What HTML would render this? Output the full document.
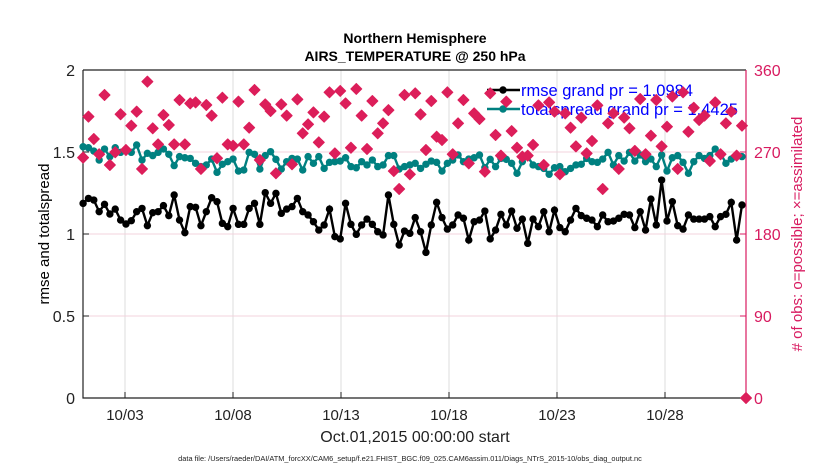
<!DOCTYPE html>
<html><head><meta charset="utf-8"><style>
body{margin:0;background:#fff;}
svg{display:block;font-family:"Liberation Sans",sans-serif;}
</style></head><body>
<svg id="chart" width="830" height="470" viewBox="0 0 830 470">
<text x="415" y="43" text-anchor="middle" font-size="14" font-weight="bold">Northern Hemisphere</text>
<text x="415" y="61" text-anchor="middle" font-size="14" font-weight="bold">AIRS_TEMPERATURE @ 250 hPa</text>
<g id="grid"></g><g id="axes"></g><g id="series"></g><g id="legend"></g><g id="obs"></g>
<text transform="translate(49,234) rotate(-90)" text-anchor="middle" font-size="15">rmse and totalspread</text>
<text transform="translate(802,234) rotate(-90)" text-anchor="middle" font-size="15" fill="#d81b60"># of obs: o=possible; ×=assimilated</text>
<text x="415" y="442" text-anchor="middle" font-size="16" fill="#222">Oct.01,2015 00:00:00 start</text>
<text x="410" y="461" text-anchor="middle" font-size="7.4" fill="#222">data file: /Users/raeder/DAI/ATM_forcXX/CAM6_setup/f.e21.FHIST_BGC.f09_025.CAM6assim.011/Diags_NTrS_2015-10/obs_diag_output.nc</text>
</svg>
<script>
const leftTicks=[0,0.5,1,1.5,2];
const leftTickLabels=["0","0.5","1","1.5","2"];
const rightTicks=[0,90,180,270,360];
const xTickDays=[3,8,13,18,23,28];
const xTickLabels=["10/03","10/08","10/13","10/18","10/23","10/28"];
const rmse=[1.187,1.217,1.207,1.136,1.181,1.122,1.152,1.085,1.061,1.081,1.136,1.156,1.051,1.130,1.136,1.173,1.112,1.238,1.085,1.008,1.167,1.163,1.051,1.136,1.221,1.197,1.065,1.045,1.156,1.059,1.059,1.156,1.187,1.059,1.252,1.187,1.248,1.126,1.152,1.167,1.217,1.136,
1.116,1.075,1.024,1.055,1.152,0.984,0.970,1.187,1.059,0.998,1.055,1.091,1.059,1.014,0.994,1.238,1.059,0.933,1.018,1.004,1.100,1.014,0.888,1.055,1.193,1.100,1.030,1.055,1.116,1.096,0.963,1.075,1.085,1.140,0.970,1.024,1.120,1.055,1.140,1.035,1.091,
0.943,1.091,1.045,1.136,1.014,1.146,1.039,1.014,1.085,1.156,1.112,1.096,1.085,1.045,1.116,1.075,1.079,1.096,1.120,1.116,1.039,1.136,1.024,1.213,1.055,1.329,1.079,1.197,1.051,1.030,1.116,1.091,1.091,1.091,1.106,1.045,1.106,1.120,1.193,0.963,1.177];
const spread=[1.532,1.526,1.506,1.451,1.518,1.472,1.526,1.498,1.512,1.498,1.543,1.451,1.492,1.478,1.498,1.518,1.486,1.417,1.472,1.465,1.461,1.431,1.411,1.421,1.457,1.376,1.425,1.441,1.457,1.384,1.390,1.498,1.486,1.396,1.478,1.502,1.455,1.396,1.441,1.461,1.457,1.390,
1.472,1.431,1.472,1.400,1.437,1.441,1.445,1.465,1.411,1.404,1.441,1.421,1.451,1.411,1.421,1.478,1.478,1.396,1.411,1.421,1.431,1.400,1.425,1.445,1.437,1.384,1.431,1.451,1.482,1.441,1.457,1.465,1.482,1.404,1.455,1.411,1.461,1.455,1.431,1.370,1.441,
1.472,1.421,1.411,1.400,1.364,1.404,1.411,1.380,1.400,1.421,1.425,1.461,1.441,1.437,1.457,1.498,1.421,1.478,1.445,1.498,1.445,1.482,1.441,1.457,1.411,1.482,1.384,1.465,1.478,1.437,1.370,1.441,1.478,1.461,1.478,1.518,1.492,1.431,1.457,1.478,1.472];
const obsCount=[263.8,308.8,284.3,267.5,332.6,255.7,269.7,311.4,272.2,298.9,314.3,251.4,347.2,296,278.4,310.6,299.6,278.4,327.1,278.4,323.4,324.5,251.4,321.6,309.9,263.1,329.6,278.4,276.9,325.3,278.4,296.7,338.1,261.2,322.3,315,246.6,322.3,309.9,256.5,327.8,290.5,
300.4,313.5,280.6,308.8,335.5,268.5,337,323.4,274.7,339.2,309.9,273.3,326,290.5,301.5,316,249.1,229.4,332.6,245.5,334.4,311.3,272.2,326,286.8,283.2,335.5,267.5,301.5,327.1,257.5,312.4,306.2,248.4,334.4,288.7,266,325.3,293,274.7,264.9,
266,277.8,321.2,255.7,324.5,314.3,245.5,312.4,296.7,276.2,307.7,268.5,282.1,321.2,229.4,301.5,312.4,251.4,307.7,296,271.2,328.2,267.5,287.9,327.1,276.2,297.8,330.9,251.4,335.5,292.2,318.6,305.1,309.9,260.1,324.5,267.5,301.5,314.3,266,298.9];
const startDay=1.06, stepDay=0.248;

const NS='http://www.w3.org/2000/svg';
const L=83,R=746,T=70,B=398;
const xS=d=>125+(d-3)*21.6;
const yL=v=>B-(v/2)*(B-T);
const yR=v=>B-(v/360)*(B-T);
function mk(tag,attrs,parent){const e=document.createElementNS(NS,tag);for(const k in attrs)e.setAttribute(k,attrs[k]);parent.appendChild(e);return e;}
const grid=document.getElementById('grid'),axes=document.getElementById('axes'),ser=document.getElementById('series'),leg=document.getElementById('legend'),obs=document.getElementById('obs');
xTickDays.forEach((d,i)=>{
 const g=mk('line',{x1:xS(d),x2:xS(d),y1:T,y2:B,stroke:'#dcdcdc','stroke-width':1},grid);
 
 
 const t=mk('line',{x1:xS(d),x2:xS(d),y1:B,y2:B-6,stroke:'#222'},axes);
 
 
 const lb=mk('text',{x:xS(d),y:420,'text-anchor':'middle','font-size':15,fill:'#222'},axes);
 lb.textContent=xTickLabels[i];
 
 
});
rightTicks.slice(1,4).forEach(v=>{
 const g=mk('line',{x1:L,x2:R,y1:yR(v),y2:yR(v),stroke:'#f3d3dd','stroke-width':1},grid);
 
 
});
leftTicks.forEach((v,i)=>{
 const t=mk('line',{x1:L,x2:L+6,y1:yL(v),y2:yL(v),stroke:'#222'},axes);
 
 
 const lb=mk('text',{x:L-8,y:yL(v)+6,'text-anchor':'end','font-size':16,fill:'#222'},axes);
 lb.textContent=leftTickLabels[i];
 
 
});
rightTicks.forEach(v=>{
 const t=mk('line',{x1:R-6,x2:R,y1:yR(v),y2:yR(v),stroke:'#d81b60'},axes);
 
 
 const lb=mk('text',{x:R+8,y:yR(v)+6,'font-size':16,fill:'#d81b60'},axes);
 lb.textContent=String(v);
 
 
});
const fr=mk('path',{d:`M${L},${T}H${R}M${L},${T}V${B}H${R}`,fill:'none',stroke:'#222','stroke-width':1.2},axes);


const ra=mk('line',{x1:R,x2:R,y1:T,y2:B,stroke:'#d81b60','stroke-width':1.2},axes);


function line(vals,color,name){
 const pts=vals.map((v,i)=>[xS(startDay+stepDay*i),yL(v)]);
 const p=mk('polyline',{points:pts.map(p=>p.join(',')).join(' '),fill:'none',stroke:color,'stroke-width':2.4},ser);
 
 
 pts.forEach(q=>{const c=mk('circle',{cx:q[0],cy:q[1],r:3.7,fill:color},ser);
  
  });
}
line(spread,'#008080','totalspread');
line(rmse,'#000','rmse');
function legendEntry(y,color,label,name){
 const l=mk('line',{x1:487,x2:520,y1:y,y2:y,stroke:color,'stroke-width':2.4},leg);
 
 
 const c=mk('circle',{cx:503,cy:y,r:3.7,fill:color},leg);
 
 
 const t=mk('text',{x:521,y:y+6,'font-size':16.5,fill:'#0000ff'},leg);
 t.textContent=label;
 
 
}
legendEntry(90,'#000','rmse grand pr = 1.0984','rmse');
legendEntry(109,'#008080','totalspread grand pr = 1.4425','totalspread');
function diamond(x,y){
 const d=mk('path',{d:`M${x},${y-5.5}L${x+5.5},${y}L${x},${y+5.5}L${x-5.5},${y}Z`,fill:'#dc1e5a','stroke':'#dc1e5a','stroke-width':1,'stroke-linejoin':'round'},obs);
 
 
}
obsCount.forEach((v,i)=>diamond(xS(startDay+stepDay*i),yR(v)));
diamond(R,yR(0));
</script>
</body></html>
